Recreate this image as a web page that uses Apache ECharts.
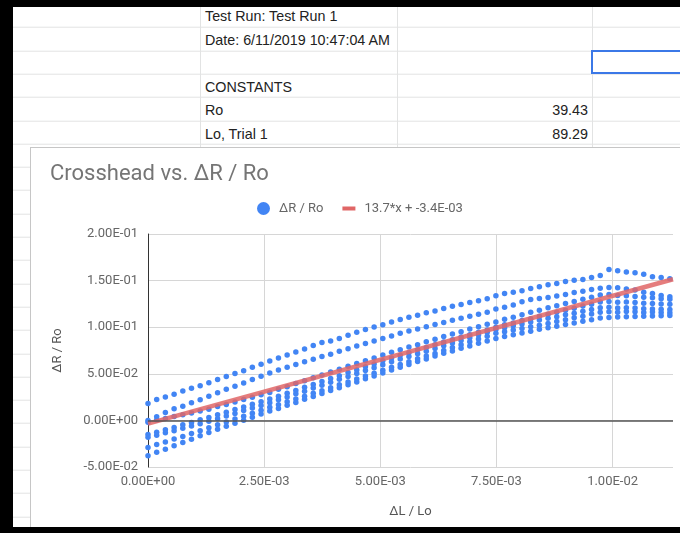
<!DOCTYPE html>
<html>
<head>
<meta charset="utf-8">
<script src="https://cdn.jsdelivr.net/npm/echarts@6/dist/echarts.min.js"></script>
<style>
  html, body { margin: 0; padding: 0; width: 680px; height: 533px; overflow: hidden; background: #000; }
  #sheet {
    position: absolute; left: 13px; top: 7px; width: 667px; height: 520px; overflow: hidden;
    background-color: #fff;
    background-image: repeating-linear-gradient(to bottom, transparent 0, transparent 22.3px, #e2e3e3 22.3px, #e2e3e3 23.3px);
    background-position: 0 -2.3px;
    font-family: "Liberation Sans", Arial, sans-serif; font-size: 14.3px; color: #222;
  }
  .col { position: absolute; top: 0; width: 1px; height: 520px; background: #e2e3e3; }
  .cell { position: absolute; line-height: 18px; white-space: nowrap; }
  .num { text-align: right; width: 120px; }
  #sel { position: absolute; left: 578px; top: 43px; width: 92px; height: 20px; border: 2px solid #3b78e7; }
  #card { position: absolute; left: 30px; top: 147px; width: 660px; height: 390px; background: #fff; border: 1px solid #c6c6c6; }
  #myChart { position: absolute; left: 31px; top: 148px; width: 649px; height: 379px; }
  #bottom { position: absolute; left: 0; top: 527px; width: 680px; height: 6px; background: #000; }
</style>
</head>
<body>
<div id="sheet">
  <div class="col" style="left:187px"></div>
  <div class="col" style="left:384px"></div>
  <div class="col" style="left:579px"></div>
  <div class="cell" style="left:192px; top:0px">Test Run: Test Run 1</div>
  <div class="cell" style="left:192px; top:24px">Date: 6/11/2019 10:47:04 AM</div>
  <div class="cell" style="left:192px; top:71px">CONSTANTS</div>
  <div class="cell" style="left:192px; top:94px">Ro</div>
  <div class="cell num" style="left:455px; top:94px">39.43</div>
  <div class="cell" style="left:192px; top:118px">Lo, Trial 1</div>
  <div class="cell num" style="left:455px; top:118px">89.29</div>
  <div id="sel"></div>
</div>
<div id="card"></div>
<div id="myChart"></div>
<div id="bottom"></div>

<script>
// ΔL / Lo steps (one per column of dots)
var dLo = [0, 0.000187, 0.000374, 0.000562, 0.000749, 0.000936, 0.001123, 0.001310, 0.001498, 0.001685,
  0.001872, 0.002059, 0.002246, 0.002434, 0.002621, 0.002808, 0.002995, 0.003182, 0.003370, 0.003557,
  0.003744, 0.003931, 0.004118, 0.004306, 0.004493, 0.004680, 0.004867, 0.005054, 0.005242, 0.005429,
  0.005616, 0.005803, 0.005990, 0.006178, 0.006365, 0.006552, 0.006739, 0.006926, 0.007114, 0.007301,
  0.007488, 0.007675, 0.007862, 0.008050, 0.008237, 0.008424, 0.008611, 0.008798, 0.008986, 0.009173,
  0.009360, 0.009547, 0.009734, 0.009922, 0.010109, 0.010296, 0.010483, 0.010670, 0.010858, 0.011045,
  0.011232]

// ΔR / Ro, one array per run of dots
var run1 = [.0180, .0223, .0251, .0280, .0315, .0344, .0373, .0405, .0438, .0470,
  .0502, .0534, .0570, .0602, .0638, .0670, .0702, .0734, .0767, .0803,
  .0835, .0853, .0878, .0914, .0946, .0975, .1003, .1025, .1057, .1083,
  .1108, .1129, .1154, .1175, .1201, .1226, .1244, .1266, .1283, .1304,
  .1337, .1362, .1376, .1392, .1414, .1433, .1455, .1470, .1491, .1505,
  .1513, .1534, .1554, .1620, .1605, .1591, .1584, .1567, .1541, .1534,
  .1519]
var run2 = [.0000, .0040, .0086, .0126, .0151, .0190, .0222, .0258, .0297, .0333,
  .0366, .0401, .0440, .0473, .0509, .0540, .0570, .0600, .0630, .0655,
  .0685, .0710, .0742, .0770, .0797, .0825, .0853, .0878, .0905, .0935,
  .0960, .0982, .1005, .1028, .1050, .1074, .1095, .1117, .1138, .1160,
  .1195, .1215, .1237, .1272, .1298, .1308, .1319, .1336, .1351, .1373,
  .1387, .1405, .1419, .1427, .1422, .1409, .1398, .1376, .1362, .1341,
  .1328]
var run3 = [-.0020, .0003, .0021, .0043, .0061, .0080, .0102, .0120, .0148, .0171,
  .0197, .0225, .0248, .0275, .0300, .0333, .0362, .0396, .0425, .0458,
  .0488, .0520, .0549, .0582, .0610, .0640, .0669, .0702, .0730, .0757,
  .0788, .0813, .0843, .0871, .0900, .0928, .0951, .0980, .1005, .1031,
  .1057, .1085, .1107, .1134, .1160, .1183, .1210, .1230, .1255, .1276,
  .1300, .1321, .1345, .1350, .1341, .1338, .1330, .1322, .1315, .1306,
  .1300]
var run4 = [-.0150, -.0127, -.0099, -.0075, -.0046, -.0022, .0007, .0030, .0061, .0087,
  .0118, .0143, .0174, .0201, .0230, .0259, .0292, .0320, .0355, .0386,
  .0417, .0450, .0479, .0513, .0542, .0576, .0605, .0640, .0670, .0700,
  .0726, .0757, .0783, .0812, .0840, .0865, .0894, .0918, .0947, .0971,
  .1000, .1025, .1045, .1071, .1092, .1118, .1140, .1160, .1183, .1203,
  .1227, .1246, .1270, .1275, .1268, .1271, .1265, .1258, .1255, .1249,
  .1245]
var run5 = [-.0180, -.0158, -.0133, -.0110, -.0084, -.0061, -.0035, -.0010, .0018, .0047,
  .0074, .0105, .0132, .0160, .0190, .0222, .0251, .0285, .0314, .0347,
  .0378, .0410, .0442, .0470, .0503, .0535, .0565, .0597, .0630, .0660,
  .0685, .0716, .0743, .0771, .0800, .0831, .0857, .0888, .0915, .0946,
  .0975, .0993, .1016, .1034, .1055, .1076, .1095, .1113, .1133, .1150,
  .1172, .1190, .1210, .1214, .1207, .1210, .1205, .1199, .1196, .1193,
  .1190]
var run6 = [-.0290, -.0259, -.0232, -.0199, -.0172, -.0140, -.0111, -.0080, -.0047, -.0018,
  .0016, .0045, .0078, .0108, .0140, .0168, .0201, .0229, .0260, .0291,
  .0318, .0350, .0383, .0412, .0445, .0476, .0505, .0539, .0570, .0601,
  .0628, .0661, .0690, .0719, .0750, .0783, .0811, .0843, .0874, .0902,
  .0935, .0950, .0970, .0985, .1004, .1021, .1040, .1062, .1079, .1101,
  .1118, .1141, .1160, .1166, .1161, .1168, .1165, .1159, .1162, .1157,
  .1155]
var run7 = [-.0380, -.0342, -.0309, -.0272, -.0236, -.0201, -.0166, -.0130, -.0096, -.0064,
  -.0031, .0002, .0034, .0068, .0100, .0129, .0163, .0193, .0226, .0256,
  .0288, .0320, .0349, .0383, .0413, .0446, .0476, .0508, .0540, .0571,
  .0599, .0631, .0660, .0691, .0720, .0745, .0773, .0798, .0827, .0851,
  .0880, .0900, .0918, .0939, .0956, .0977, .0995, .1011, .1030, .1046,
  .1065, .1081, .1100, .1104, .1109, .1111, .1115, .1117, .1121, .1122,
  .1125]

// trendline from the legend
var trendSlope = 13.7
var trendIntercept = -0.0034
var trendName = '13.7*x + -3.4E-03'
var xMax = 0.0113

// 0.15 -> 1.50E-01
function sci (v) {
  if (Math.abs(v) < 1e-12) return '0.00E+00'
  var parts = v.toExponential(2).split('e')
  var e = parseInt(parts[1], 10)
  return parts[0] + 'E' + (e < 0 ? '-' : '+') + String(Math.abs(e)).padStart(2, '0')
}

var points = []
;[run1, run2, run3, run4, run5, run6, run7].forEach(function (run) {
  run.forEach(function (v, i) {
    points.push([dLo[i], v])
  })
})

var font = 'Roboto, "Noto Sans", sans-serif'
var myChart = echarts.init(document.getElementById('myChart'))
myChart.setOption({
  animation: false,
  title: {
    text: 'Crosshead vs. ΔR / Ro',
    left: 19,
    top: 15,
    padding: 0,
    textStyle: { fontFamily: font, fontSize: 22, fontWeight: 'normal', color: '#757575' }
  },
  legend: {
    left: 226,
    top: 54,
    padding: 0,
    itemWidth: 13,
    itemHeight: 13,
    itemGap: 19,
    textStyle: { fontFamily: font, fontSize: 13, color: '#666', padding: [0, 0, 0, 4] },
    data: [
      { name: 'ΔR / Ro', icon: 'circle' },
      { name: trendName, icon: 'path://M0,0H13V4H0Z' }
    ]
  },
  grid: {
    left: 117,
    top: 86,
    right: 7,
    bottom: 60
  },
  xAxis: {
    type: 'value',
    min: 0,
    max: xMax,
    interval: 0.0025,
    name: 'ΔL / Lo',
    nameLocation: 'middle',
    nameGap: 38,
    nameTextStyle: { fontFamily: font, fontSize: 13, color: '#555' },
    axisLine: { show: false },
    axisTick: { show: false },
    axisLabel: {
      formatter: sci,
      showMaxLabel: false,
      margin: 8,
      fontFamily: font,
      fontSize: 13,
      color: '#666'
    },
    splitLine: { show: true, showMaxLine: false, lineStyle: { color: '#d6d6d6', width: 1 } }
  },
  yAxis: {
    type: 'value',
    min: -0.05,
    max: 0.2,
    interval: 0.05,
    name: 'ΔR / Ro',
    nameLocation: 'middle',
    nameGap: 84,
    nameTextStyle: { fontFamily: font, fontSize: 13, color: '#555' },
    axisLine: { show: true, lineStyle: { color: '#333', width: 1 } },
    axisTick: { show: false },
    axisLabel: {
      formatter: sci,
      margin: 10,
      fontFamily: font,
      fontSize: 13,
      color: '#666'
    },
    splitLine: { show: true, lineStyle: { color: '#d6d6d6', width: 1 } }
  },
  series: [
    {
      name: 'ΔR / Ro',
      type: 'scatter',
      symbol: 'circle',
      symbolSize: 5.5,
      itemStyle: { color: '#4285f4', opacity: 1 },
      data: points,
      markLine: {
        silent: true,
        symbol: ['none', 'none'],
        label: { show: false },
        lineStyle: { color: '#555', width: 1.5, type: 'solid' },
        data: [{ yAxis: 0 }]
      }
    },
    {
      name: trendName,
      type: 'line',
      symbol: 'none',
      silent: true,
      itemStyle: { color: '#e06666' },
      lineStyle: { color: '#e06666', width: 4.5, opacity: 0.85 },
      data: [[0, trendIntercept], [xMax, trendSlope * xMax + trendIntercept]]
    }
  ]
})
</script>
</body>
</html>
